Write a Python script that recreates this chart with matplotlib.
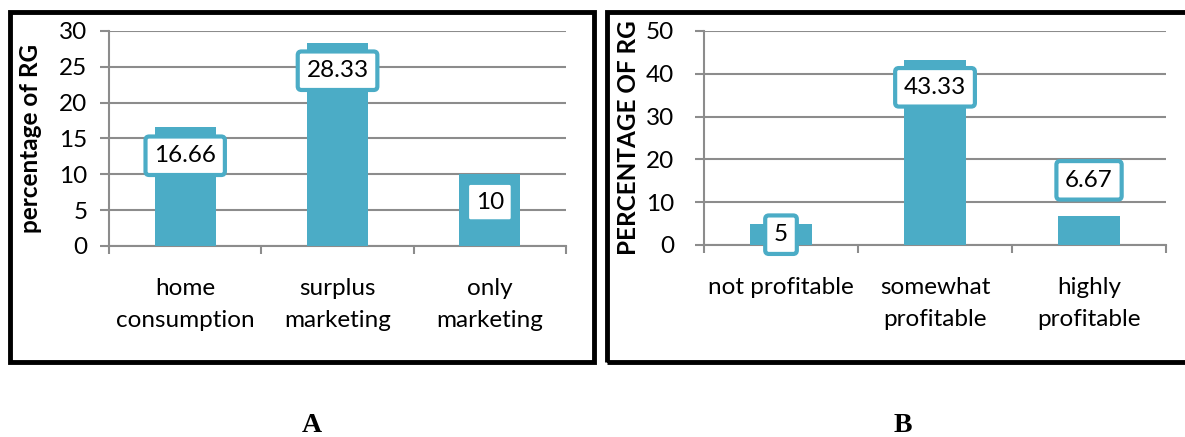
import matplotlib.pyplot as plt
from matplotlib.patches import Rectangle

plt.rcParams['font.family'] = ['Lato', 'DejaVu Sans']

# Panel A: use of the produce
cats_a = ['home\nconsumption', 'surplus\nmarketing', 'only\nmarketing']
vals_a = [16.66, 28.33, 10]
labels_a = ['16.66', '28.33', '10']

# Panel B: profitability
cats_b = ['not profitable', 'somewhat\nprofitable', 'highly\nprofitable']
vals_b = [5, 43.33, 6.67]
labels_b = ['5', '43.33', '6.67']

bar_color = '#4BACC6'
grid_color = '#8C8C8C'
fs = 17.5

# vertical label offsets (points) from the top of each bar
offs_a = [-21, -20, -20]
offs_b = [-8, -20, 26]

fig = plt.figure(figsize=(11.85, 4.37), dpi=100)


def draw_panel(ax, cats, vals, labels, offs, ymax, ystep, ylabel, lab_x, ypad):
    x = range(len(cats))
    ax.bar(x, vals, width=0.40, color=bar_color, zorder=3)
    ax.set_xlim(-0.5, len(cats) - 0.5)
    ax.set_ylim(0, ymax)
    ax.set_yticks(range(0, ymax + 1, ystep))
    ax.grid(axis='y', color=grid_color, linewidth=1.5, zorder=0)
    for s in ['top', 'right']:
        ax.spines[s].set_visible(False)
    for s in ['left', 'bottom']:
        ax.spines[s].set_color(grid_color)
        ax.spines[s].set_linewidth(1.5)
    ax.tick_params(axis='y', length=6.5, width=1.5, color=grid_color,
                   labelsize=fs, pad=ypad)
    ax.set_xticks(list(x))
    ax.set_xticklabels(cats, fontsize=fs, linespacing=1.65)
    ax.tick_params(axis='x', which='major', length=0, pad=23)
    ax.set_xticks([i - 0.5 for i in range(len(cats) + 1)], minor=True)
    ax.tick_params(axis='x', which='minor', length=6, width=1.5,
                   color=grid_color)
    ax.set_ylabel(ylabel, fontsize=fs, fontweight='bold')
    ax.yaxis.set_label_coords(lab_x, 0.5)
    for i, (v, t, o) in enumerate(zip(vals, labels, offs)):
        ax.annotate(t, (i, v), xytext=(0, o), textcoords='offset points',
                    ha='center', va='center', fontsize=fs, zorder=5,
                    bbox=dict(boxstyle='round,pad=0.36,rounding_size=0.15',
                              fc='white', ec=bar_color, lw=3))


ax_a = fig.add_axes([0.0920, 0.4371, 0.3857, 0.4920])
draw_panel(ax_a, cats_a, vals_a, labels_a, offs_a, 30, 5,
           'percentage of RG', -0.147, 9)

ax_b = fig.add_axes([0.5941, 0.4394, 0.3899, 0.4897])
draw_panel(ax_b, cats_b, vals_b, labels_b, offs_b, 50, 10,
           'PERCENTAGE OF RG', -0.139, 15)

# black frames around each panel
W, H = 1185, 437
for x0, x1 in [(10, 594), (607, 1195)]:
    fig.patches.append(Rectangle((x0 / W, 1 - 362 / H), (x1 - x0) / W,
                                 (362 - 12) / H, transform=fig.transFigure,
                                 fill=False, ec='black', lw=3.5, zorder=10))

fig.text(312 / W, 1 - 425 / H, 'A', ha='center', va='center', fontsize=20,
         fontweight='bold', family='Liberation Serif')
fig.text(903 / W, 1 - 425 / H, 'B', ha='center', va='center', fontsize=20,
         fontweight='bold', family='Liberation Serif')

fig.savefig('out.png', dpi=100)
